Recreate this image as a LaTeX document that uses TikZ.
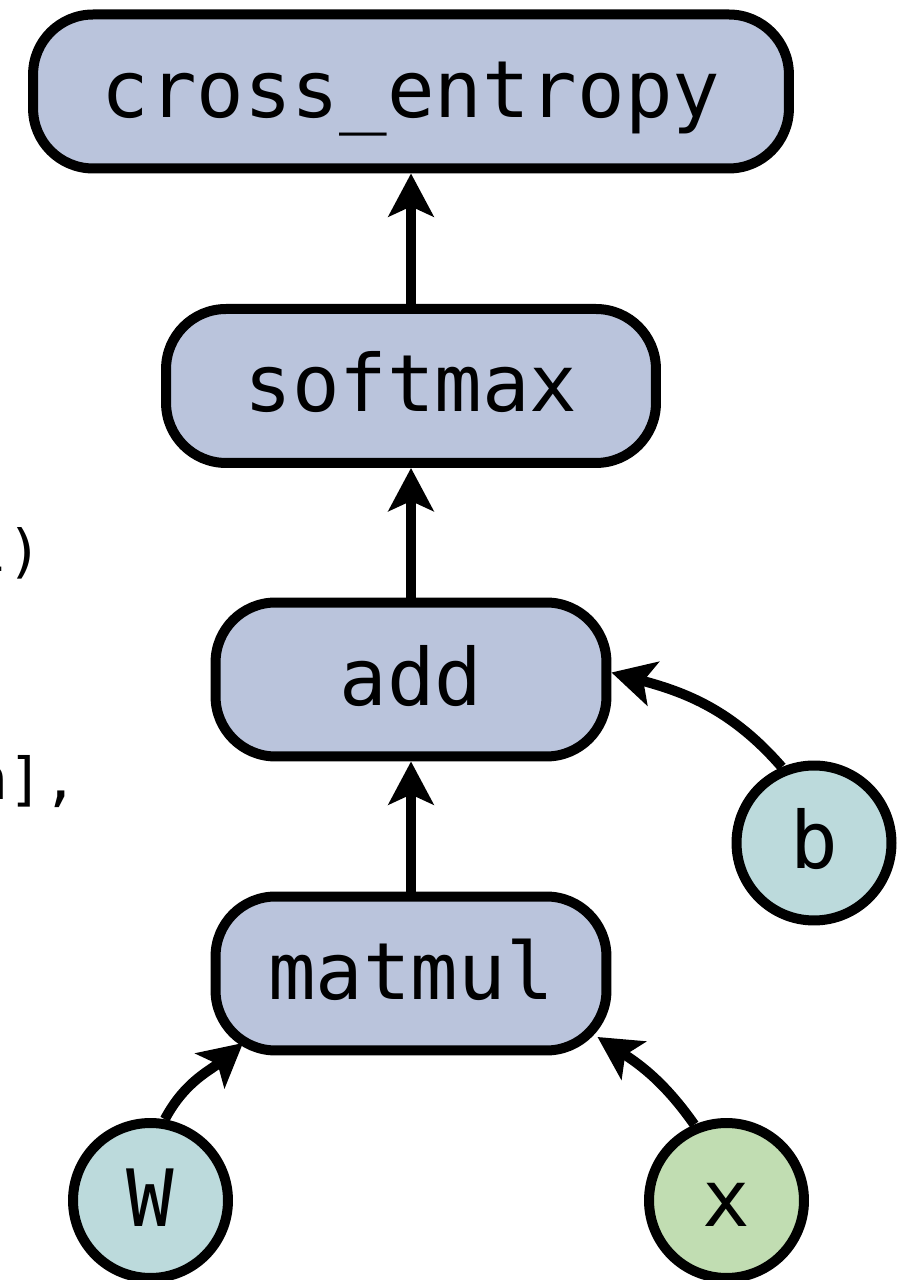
\documentclass[tikz,border=0pt]{standalone}
\usepackage{fontspec}
\setmonofont{DejaVu Sans Mono}
\usetikzlibrary{arrows.meta}
\definecolor{opfill}{HTML}{BAC4DC}
\definecolor{varfill}{HTML}{BCDADC}
\definecolor{infill}{HTML}{C1DDB2}
\tikzset{
  labelfont/.style={font=\ttfamily\fontsize{45pt}{54pt}\selectfont, text height=1.23cm, text depth=0.19cm},
  opbox/.style={draw=black, line width=0.2cm, fill=opfill, rectangle, rounded corners=1.2cm,
    minimum height=3.08cm, inner sep=0pt, labelfont},
  varnode/.style={draw=black, line width=0.2cm, circle, minimum size=3.1cm, inner sep=0pt, labelfont},
  arr/.style={line width=0.2cm, -{Stealth[length=0.86cm, width=0.9cm, inset=0.2cm]}},
  frag/.style={anchor=base east, inner sep=0pt, font=\ttfamily\fontsize{33pt}{40pt}\selectfont}
}
\begin{document}
\begin{tikzpicture}[x=0.02cm, y=0.02cm]
  \useasboundingbox (0,0) rectangle (908,1280);
  \fill[white] (0,0) rectangle (908,1280);

  \node[frag] (f1) at (43,708) {l)};
  \node[frag] (f2) at (78.5,480) {n],};

  \node[opbox, minimum width=15.12cm] (ce) at (411,1188.5) {cross\_entropy};
  \node[opbox, minimum width=9.8cm] (sm) at (411,894) {softmax};
  \node[opbox, minimum width=7.82cm] (add) at (411,600.5) {add};
  \node[opbox, minimum width=7.82cm] (mm) at (411,306.5) {matmul};
  \node[varnode, fill=varfill] (b) at (814,437) {b};
  \node[varnode, fill=varfill] (W) at (150.5,79.5) {W};
  \node[varnode, fill=infill] (x) at (726.5,79.5) {x};

  \draw[arr] (sm) -- (ce);
  \draw[arr] (add) -- (sm);
  \draw[arr] (mm) -- (add);
  \draw[arr] (b.113) to[out=131, in=-15] (add.2);
  \draw[arr] (W.80) to[out=62, in=220] ([shift={(-168,-69.5)}]mm.center);
  \draw[arr] (x.113) to[out=125, in=-33] ([shift={(186.5,-63.5)}]mm.center);
\end{tikzpicture}
\end{document}
